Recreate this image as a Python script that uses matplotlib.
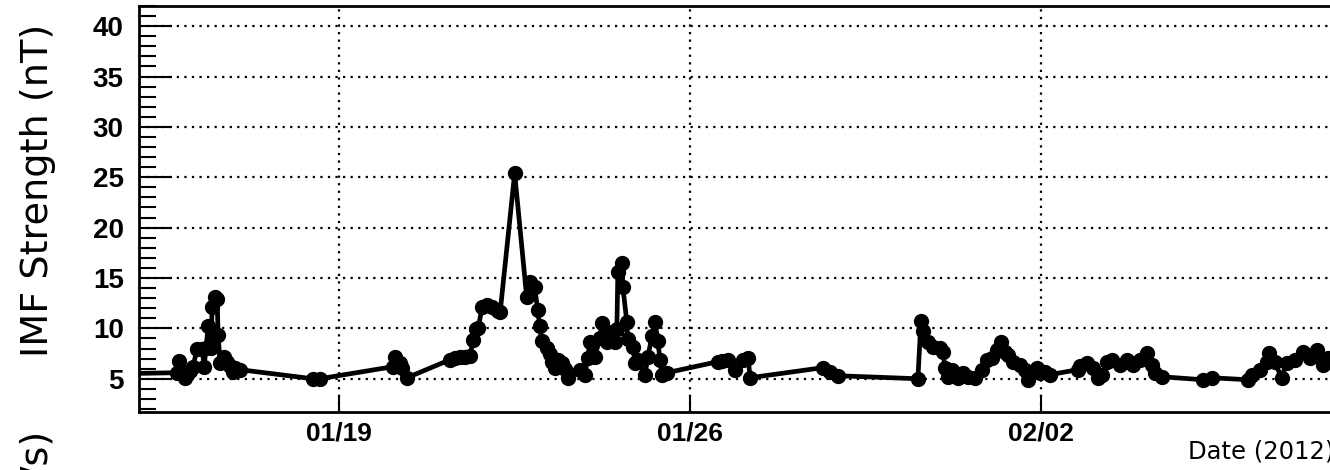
import matplotlib
matplotlib.use("Agg")
import matplotlib.pyplot as plt
import matplotlib.dates as mdates
from matplotlib.ticker import MultipleLocator
import numpy as np
import pandas as pd

# day of year 2012 (Jan 1 = 1.0), IMF strength in nT
days = [14.6, 15.76, 15.80, 15.92, 16.02, 16.08, 16.16, 16.26, 16.30, 16.34,
        16.38, 16.44, 16.46, 16.52, 16.56, 16.58, 16.62, 16.70, 16.76, 16.82,
        16.88, 16.92, 17.02, 18.47, 18.61, 20.07, 20.11, 20.21, 20.25, 20.35,
        21.21, 21.31, 21.41, 21.51, 21.61, 21.67, 21.73, 21.77, 21.85, 21.95,
        22.05, 22.17, 22.21, 22.50, 22.74, 22.80, 22.90, 22.96, 23.00, 23.04,
        23.14, 23.20, 23.24, 23.30, 23.36, 23.44, 23.50, 23.56, 23.80, 23.90,
        23.96, 24.00, 24.10, 24.20, 24.24, 24.34, 24.44, 24.50, 24.54, 24.56,
        24.64, 24.66, 24.74, 24.76, 24.86, 24.90, 24.96, 25.10, 25.16, 25.24,
        25.30, 25.36, 25.40, 25.44, 25.54, 26.56, 26.64, 26.76, 26.90, 27.06,
        27.16, 27.20, 28.65, 28.79, 28.95, 30.55, 30.61, 30.65, 30.75, 30.85,
        30.99, 31.05, 31.09, 31.15, 31.23, 31.35, 31.45, 31.55, 31.69, 31.83,
        31.93, 32.03, 32.13, 32.21, 32.29, 32.35, 32.45, 32.58, 32.68, 32.74,
        32.92, 32.98, 33.08, 33.18, 33.74, 33.78, 33.92, 34.04, 34.14, 34.22,
        34.32, 34.42, 34.58, 34.72, 34.84, 34.98, 35.12, 35.22, 35.28, 35.42,
        36.24, 36.42, 37.14, 37.22, 37.38, 37.52, 37.56, 37.67, 37.81, 37.91,
        38.07, 38.23, 38.37, 38.51, 38.63, 38.73, 39.07]
imf = [5.5, 5.6, 6.8, 5.1, 5.8, 6.2, 8.0, 8.0, 6.2, 8.1,
       10.2, 8.1, 12.1, 13.1, 12.9, 9.3, 6.6, 7.2, 6.7, 6.3,
       5.7, 6.1, 5.9, 5.0, 5.0, 6.2, 7.2, 6.6, 6.1, 5.1,
       6.9, 7.1, 7.2, 7.2, 7.3, 8.8, 9.9, 10.0, 12.1, 12.3,
       12.1, 11.7, 11.6, 25.4, 13.1, 14.6, 14.1, 11.8, 10.2, 8.7,
       8.1, 7.5, 6.7, 6.1, 6.9, 6.6, 6.0, 5.1, 5.9, 5.4,
       7.1, 8.6, 7.2, 9.0, 10.5, 8.6, 9.6, 8.6, 9.9, 15.6,
       16.5, 14.1, 10.6, 8.9, 8.2, 6.6, 6.9, 5.4, 7.2, 9.2,
       10.6, 8.7, 6.9, 5.4, 5.6, 6.7, 6.8, 6.9, 5.9, 6.9,
       7.1, 5.1, 6.1, 5.7, 5.3, 5.0, 10.7, 9.7, 8.6, 8.2,
       8.1, 7.7, 6.1, 5.2, 5.9, 5.1, 5.6, 5.2, 5.1, 5.9,
       6.9, 7.1, 7.9, 8.6, 7.7, 7.4, 6.7, 6.4, 5.9, 4.9,
       6.1, 5.6, 5.7, 5.4, 5.9, 6.3, 6.6, 6.1, 5.1, 5.4,
       6.7, 6.9, 6.4, 6.9, 6.4, 6.9, 7.6, 6.4, 5.6, 5.2,
       4.9, 5.1, 4.9, 5.4, 5.9, 6.7, 7.6, 6.7, 5.1, 6.6,
       6.9, 7.7, 7.1, 7.9, 6.4, 7.1, 7.5]

tick_dates = ["2012-01-19", "2012-01-26", "2012-02-02"]

base = mdates.date2num(pd.Timestamp("2012-01-01"))
x = base + np.array(days) - 1.0

fig = plt.figure(figsize=(13.3, 4.7), dpi=100)
ax = fig.add_axes([0.1045, 0.1234, 0.899, 0.8638])

ax.plot(x, imf, color="black", lw=3.4, marker="o", ms=10, zorder=3)

ax.set_xlim(base + 14.0, base + 14.0 + 23.87)
ax.set_ylim(1.7, 42)

ax.set_xticks([mdates.date2num(pd.Timestamp(d)) for d in tick_dates])
ax.xaxis.set_major_formatter(mdates.DateFormatter("%m/%d"))
ax.yaxis.set_minor_locator(MultipleLocator(1))
ax.set_yticks(range(5, 41, 5))

ax.grid(True, which="major", color="black", ls=(0, (1, 2.4)), lw=1.6)
ax.set_axisbelow(True)

ax.tick_params(axis="y", which="major", direction="in", length=24, width=1.5,
               pad=11, labelsize=20, right=False)
ax.tick_params(axis="y", which="minor", direction="in", length=12, width=1.5,
               right=False)
ax.tick_params(axis="x", which="major", direction="in", length=12, width=1.5,
               pad=7, labelsize=19, top=False)
for lab in ax.get_xticklabels() + ax.get_yticklabels():
    lab.set_fontfamily("Liberation Sans")
    lab.set_fontweight("bold")

for side in ["left", "bottom", "top"]:
    ax.spines[side].set_linewidth(2)
ax.spines["right"].set_visible(False)

fig.text(0.0286, 0.594, "IMF Strength (nT)", rotation=90, ha="center",
         va="center", fontsize=27.5, family="DejaVu Sans")
fig.text(0.0286, 0.083, "Speed (km/s)", rotation=90, ha="center",
         va="top", fontsize=27.5, family="DejaVu Sans")
fig.text(1334 / 1330, 0.0404, "Date (2012)", ha="right", va="center",
         fontsize=17.5, family="DejaVu Sans")

fig.savefig("out.png", dpi=100)
